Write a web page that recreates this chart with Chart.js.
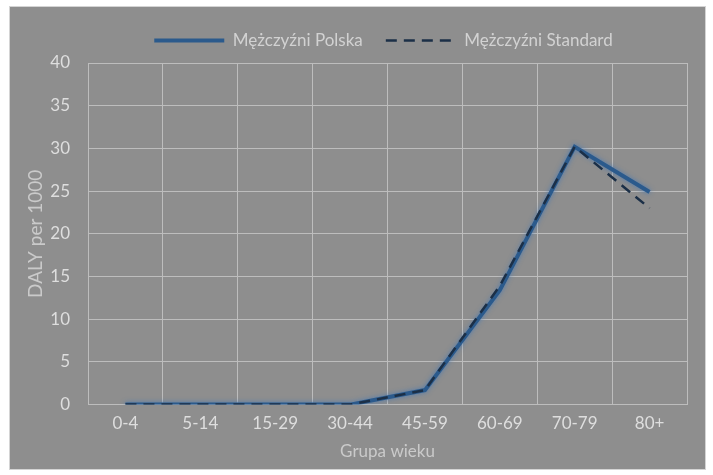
<!DOCTYPE html>
<html>
<head>
<meta charset="utf-8">
<script src="https://cdn.jsdelivr.net/npm/chart.js@4"></script>
<style>
  body { margin: 0; background: #ffffff; }
  #wrap {
    position: absolute; left: 9px; top: 6px;
    width: 697px; height: 464px;
    background: #8e8e8e;
    border: 1px solid #d4d4d4;
    box-sizing: border-box;
  }
</style>
</head>
<body>
<div id="wrap"><canvas id="myChart" width="695" height="462"></canvas></div>
<script>
const ageGroups = ["0-4", "5-14", "15-29", "30-44", "45-59", "60-69", "70-79", "80+"];
const menPoland = [0, 0, 0, 0, 1.7, 13.4, 30.2, 24.9];
const menStandard = [0, 0, 0, 0, 1.7, 13.9, 30.2, 23.0];

const textColor = "#dedede";
const titleColor = "#cacaca";
const gridColor = "#bdbdbd";
const fontFamily = "Lato, 'Open Sans', sans-serif";

// soft glow under the solid line, like the original
const glowPlugin = {
    id: "glow",
    beforeDatasetDraw(chart, args) {
        if (args.index === 0) {
            chart.ctx.save();
            chart.ctx.shadowColor = "rgba(70,120,180,0.9)";
            chart.ctx.shadowBlur = 5;
        }
    },
    afterDatasetDraw(chart, args) {
        if (args.index === 0) chart.ctx.restore();
    }
};

// legend: a bit more room below it, centred over the plot area
const legendTweak = {
    id: "legendTweak",
    beforeInit(chart) {
        const legend = chart.legend;
        const fit = legend.fit.bind(legend);
        legend.fit = function () {
            fit();
            this.height += 4;
        };
    },
    afterLayout(chart) {
        chart.legend.left = chart.chartArea.left - 4;
        chart.legend.right = chart.chartArea.right - 4;
    }
};

const data = {
    labels: ageGroups,
    datasets: [{
        label: "Mężczyźni Polska",
        data: menPoland,
        borderColor: "#2b5a8c",
        borderWidth: 4,
        pointRadius: 0,
        tension: 0,
        order: 1
    }, {
        label: "Mężczyźni Standard",
        data: menStandard,
        borderColor: "#1b2f47",
        borderWidth: 2.5,
        borderDash: [11, 7],
        pointRadius: 0,
        tension: 0,
        order: 0
    }]
};

const config = {
    type: "line",
    data: data,
    plugins: [glowPlugin, legendTweak],
    options: {
        responsive: false,
        animation: false,
        layout: { padding: { left: 16, right: 18, top: 2, bottom: 9 } },
        plugins: {
            legend: {
                position: "top",
                labels: {
                    color: "#d2d2d2",
                    font: { family: fontFamily, size: 17 },
                    usePointStyle: true,
                    pointStyle: "line",
                    pointStyleWidth: 70,
                    padding: 23,
                    sort: (a, b) => a.datasetIndex - b.datasetIndex,
                    generateLabels(chart) {
                        const items = Chart.defaults.plugins.legend.labels.generateLabels(chart);
                        items.forEach(item => {
                            const ds = chart.data.datasets[item.datasetIndex];
                            item.lineDash = ds.borderDash || [];
                            item.lineWidth = ds.borderWidth;
                            item.strokeStyle = ds.borderColor;
                            item.fontColor = "#d2d2d2";
                        });
                        return items;
                    }
                }
            },
            tooltip: { enabled: false }
        },
        scales: {
            y: {
                min: 0,
                max: 40,
                afterFit(scale) { scale.width = 62; },
                ticks: {
                    stepSize: 5,
                    color: textColor,
                    font: { family: fontFamily, size: 17 },
                    padding: 18
                },
                grid: { color: gridColor, drawTicks: false },
                border: { color: gridColor },
                title: {
                    display: true,
                    text: "DALY per 1000",
                    color: titleColor,
                    font: { family: fontFamily, size: 19, lineHeight: 1 },
                    padding: { top: 0, bottom: 2 }
                }
            },
            x: {
                offset: true,
                ticks: {
                    color: textColor,
                    font: { family: fontFamily, size: 17 },
                    padding: 9
                },
                grid: { color: gridColor, drawTicks: false, offset: true },
                border: { color: gridColor },
                title: {
                    display: true,
                    text: "Grupa wieku",
                    color: titleColor,
                    font: { family: fontFamily, size: 17, lineHeight: 1 },
                    padding: { top: 0, bottom: 0 }
                }
            }
        }
    }
};

const ctx = document.getElementById("myChart").getContext("2d");
new Chart(ctx, config);
</script>
</body>
</html>
